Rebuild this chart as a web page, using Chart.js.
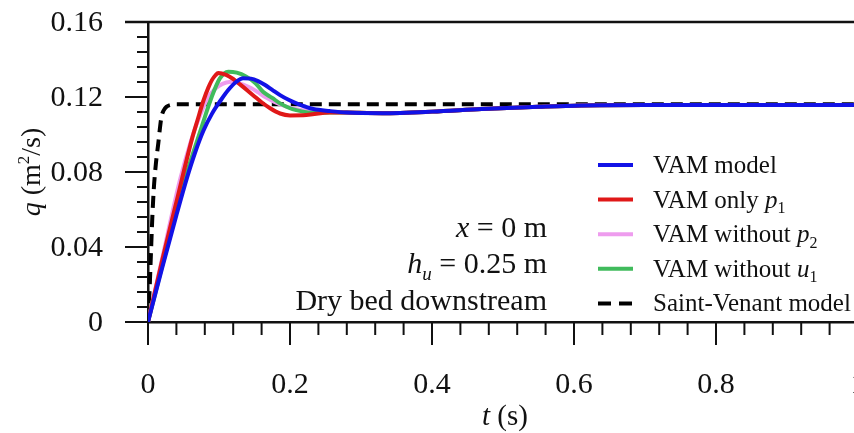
<!DOCTYPE html>
<html>
<head>
<meta charset="utf-8">
<script src="https://cdn.jsdelivr.net/npm/chart.js@4.4.0/dist/chart.umd.min.js"></script>
<style>
  html, body { margin: 0; padding: 0; overflow: hidden; background: #fff; }
  #wrap { width: 880px; height: 433px; }
</style>
</head>
<body>
<div id="wrap"><canvas id="myChart" width="880" height="433"></canvas></div>
<script>
// values: t (s) and q (m2/s)
const tVam = [0, 0.02, 0.04, 0.055, 0.066, 0.078, 0.09, 0.102, 0.113, 0.124, 0.134, 0.145, 0.155, 0.165, 0.175, 0.186, 0.198, 0.209, 0.222, 0.233, 0.256, 0.28, 0.33, 0.4, 0.47, 0.55, 0.61, 0.7, 1.0];
const qVam = [0, 0.029, 0.057, 0.077, 0.090, 0.102, 0.111, 0.118, 0.1237, 0.128, 0.130, 0.1298, 0.1285, 0.1264, 0.1238, 0.121, 0.1185, 0.1166, 0.1148, 0.1136, 0.1125, 0.1117, 0.1114, 0.1122, 0.1136, 0.1148, 0.1155, 0.1157, 0.1157];

const tOnlyP1 = [0, 0.02, 0.04, 0.0615, 0.07, 0.078, 0.085, 0.09, 0.095, 0.099, 0.11, 0.12, 0.13, 0.14, 0.15, 0.16, 0.172, 0.186, 0.2, 0.223, 0.256, 0.28, 0.33, 0.4, 0.47, 0.55, 0.61, 0.7, 1.0];
const qOnlyP1 = [0, 0.033, 0.064, 0.097, 0.108, 0.118, 0.125, 0.129, 0.1316, 0.1328, 0.1318, 0.1296, 0.1266, 0.1235, 0.1203, 0.1172, 0.114, 0.1112, 0.1102, 0.1104, 0.1118, 0.1117, 0.1114, 0.1122, 0.1136, 0.1148, 0.1155, 0.1157, 0.1157];

const tNoP2 = [0, 0.02, 0.045, 0.06, 0.07, 0.085, 0.095, 0.105, 0.115, 0.125, 0.135, 0.145, 0.155, 0.165, 0.186, 0.209, 0.233, 0.256, 0.28, 0.33, 0.4, 0.47, 0.55, 0.61, 0.7, 1.0];
const qNoP2 = [0, 0.034, 0.0757, 0.096, 0.107, 0.12, 0.1245, 0.127, 0.128, 0.1278, 0.1265, 0.1248, 0.1225, 0.12, 0.116, 0.1135, 0.1122, 0.112, 0.1117, 0.1114, 0.1122, 0.1136, 0.1148, 0.1155, 0.1157, 0.1157];

const tNoU1 = [0, 0.02, 0.04, 0.055, 0.066, 0.0755, 0.0897, 0.101, 0.113, 0.125, 0.138, 0.151, 0.162, 0.175, 0.186, 0.2, 0.209, 0.225, 0.24, 0.256, 0.28, 0.33, 0.4, 0.47, 0.55, 0.61, 0.7, 1.0];
const qNoU1 = [0, 0.030, 0.059, 0.080, 0.093, 0.104, 0.120, 0.1298, 0.1335, 0.133, 0.131, 0.1275, 0.1228, 0.1195, 0.1166, 0.114, 0.113, 0.1118, 0.1115, 0.1118, 0.1117, 0.1114, 0.1122, 0.1136, 0.1148, 0.1155, 0.1157, 0.1157];

const tSV = [0, 0.002, 0.004, 0.006, 0.008, 0.011, 0.0145, 0.017, 0.019, 0.022, 0.026, 0.032, 0.04, 1.0];
const qSV = [0, 0.015, 0.035, 0.055, 0.07, 0.084, 0.0953, 0.104, 0.1095, 0.1128, 0.1148, 0.1158, 0.1162, 0.1162];

const xTicks = [0, 0.2, 0.4, 0.6, 0.8, 1];
const xLabels = ['0', '0.2', '0.4', '0.6', '0.8', '1'];
const yTicks = [0, 0.04, 0.08, 0.12, 0.16];
const yLabels = ['0', '0.04', '0.08', '0.12', '0.16'];

const FONT = "'Liberation Serif', 'Times New Roman', serif";

function pts(t, q) {
  return t.map((x, i) => ({ x: x, y: q[i] }));
}

// text made of pieces: [text, style] with style '', 'i', 'sub', 'isub', 'sup'
function pieceFont(style, size) {
  const small = style === 'sub' || style === 'isub' || style === 'sup';
  const s = small ? Math.round(size * 0.62) : size;
  const it = (style === 'i' || style === 'isub') ? 'italic ' : '';
  return it + s + 'px ' + FONT;
}
function richWidth(ctx, parts, size) {
  let w = 0;
  parts.forEach(p => {
    ctx.font = pieceFont(p[1], size);
    w += ctx.measureText(p[0]).width;
  });
  return w;
}
function drawRich(ctx, parts, x, y, size, align) {
  const w = richWidth(ctx, parts, size);
  let cx = align === 'right' ? x - w : align === 'center' ? x - w / 2 : x;
  ctx.textAlign = 'left';
  parts.forEach(p => {
    ctx.font = pieceFont(p[1], size);
    let dy = 0;
    if (p[1] === 'sub' || p[1] === 'isub') dy = size * 0.22;
    if (p[1] === 'sup') dy = -size * 0.38;
    ctx.fillText(p[0], cx, y + dy);
    cx += ctx.measureText(p[0]).width;
  });
}

const legendItems = [
  { color: '#1212e6', dash: [], parts: [['VAM model', '']] },
  { color: '#e01818', dash: [], parts: [['VAM only ', ''], ['p', 'i'], ['1', 'sub']] },
  { color: '#ee9cee', dash: [], parts: [['VAM without ', ''], ['p', 'i'], ['2', 'sub']] },
  { color: '#40bb5c', dash: [], parts: [['VAM without ', ''], ['u', 'i'], ['1', 'sub']] },
  { color: '#000000', dash: [13, 8], parts: [['Saint-Venant model', '']] }
];

const decor = {
  id: 'decor',
  afterDraw(chart) {
    const ctx = chart.ctx;
    const xs = chart.scales.x, ys = chart.scales.y;
    const area = chart.chartArea;
    ctx.save();
    ctx.strokeStyle = '#111';
    ctx.lineWidth = 2;
    // y ticks, major + minor, pointing left
    for (let i = 0; i <= 20; i++) {
      const y = ys.getPixelForValue(i * 0.008);
      const len = i % 5 === 0 ? 23 : 11;
      ctx.beginPath();
      ctx.moveTo(area.left - len, y);
      ctx.lineTo(area.left, y);
      ctx.stroke();
    }
    // x ticks, pointing down
    for (let i = 0; i <= 25; i++) {
      const x = xs.getPixelForValue(i * 0.04);
      const len = i % 5 === 0 ? 23 : 13;
      ctx.beginPath();
      ctx.moveTo(x, area.bottom);
      ctx.lineTo(x, area.bottom + len);
      ctx.stroke();
    }
    // top frame
    ctx.lineWidth = 2.5;
    ctx.beginPath();
    ctx.moveTo(area.left - 23, area.top);
    ctx.lineTo(area.right, area.top);
    ctx.stroke();

    ctx.fillStyle = '#111';
    // tick labels
    ctx.font = '30px ' + FONT;
    ctx.textAlign = 'center';
    ctx.textBaseline = 'alphabetic';
    xTicks.forEach((v, i) => ctx.fillText(xLabels[i], xs.getPixelForValue(v), 393));
    ctx.textAlign = 'right';
    ctx.textBaseline = 'middle';
    yTicks.forEach((v, i) => ctx.fillText(yLabels[i], 103, ys.getPixelForValue(v) + 1));

    ctx.textBaseline = 'alphabetic';
    // axis titles
    drawRich(ctx, [['t', 'i'], [' (s)', '']], 505, 425, 29, 'center');
    ctx.save();
    ctx.translate(40, 172);
    ctx.rotate(-Math.PI / 2);
    drawRich(ctx, [['q', 'i'], [' (m', ''], ['2', 'sup'], ['/s)', '']], 0, 0, 28, 'center');
    ctx.restore();

    // notes
    drawRich(ctx, [['x', 'i'], [' = 0 m', '']], 547, 237, 30, 'right');
    drawRich(ctx, [['h', 'i'], ['u', 'isub'], [' = 0.25 m', '']], 547, 273, 30, 'right');
    drawRich(ctx, [['Dry bed downstream', '']], 547, 310, 30, 'right');

    // legend
    legendItems.forEach((it, i) => {
      const y = 165 + i * 34.6;
      ctx.strokeStyle = it.color;
      ctx.lineWidth = 4;
      ctx.setLineDash(it.dash);
      ctx.beginPath();
      ctx.moveTo(598, y);
      ctx.lineTo(633, y);
      ctx.stroke();
      ctx.setLineDash([]);
      ctx.fillStyle = '#111';
      drawRich(ctx, it.parts, 653, y + 8, 25, 'left');
    });
    ctx.restore();
  }
};

function lineSet(label, t, q, color, dash) {
  return {
    label: label,
    data: pts(t, q),
    borderColor: color,
    borderWidth: 4,
    borderDash: dash,
    pointRadius: 0,
    fill: false,
    cubicInterpolationMode: 'monotone'
  };
}

const ctx = document.getElementById('myChart').getContext('2d');
const myChart = new Chart(ctx, {
  type: 'line',
  data: {
    datasets: [
      lineSet('VAM model', tVam, qVam, '#1212e6', []),
      lineSet('VAM only p1', tOnlyP1, qOnlyP1, '#e01818', []),
      lineSet('VAM without u1', tNoU1, qNoU1, '#40bb5c', []),
      lineSet('VAM without p2', tNoP2, qNoP2, '#ee9cee', []),
      lineSet('Saint-Venant model', tSV, qSV, '#000000', [12, 7])
    ]
  },
  options: {
    responsive: false,
    animation: false,
    layout: { padding: { top: 22, right: 22, left: 0, bottom: 0 } },
    plugins: { legend: { display: false }, tooltip: { enabled: false } },
    scales: {
      x: {
        type: 'linear',
        min: 0,
        max: 1,
        afterFit: s => { s.height = 111; },
        grid: { display: false },
        border: { display: true, color: '#111', width: 2.5 },
        ticks: { display: false }
      },
      y: {
        min: 0,
        max: 0.16,
        afterFit: s => { s.width = 148; },
        grid: { display: false },
        border: { display: true, color: '#111', width: 2.5 },
        ticks: { display: false }
      }
    }
  },
  plugins: [decor]
});
</script>
</body>
</html>
